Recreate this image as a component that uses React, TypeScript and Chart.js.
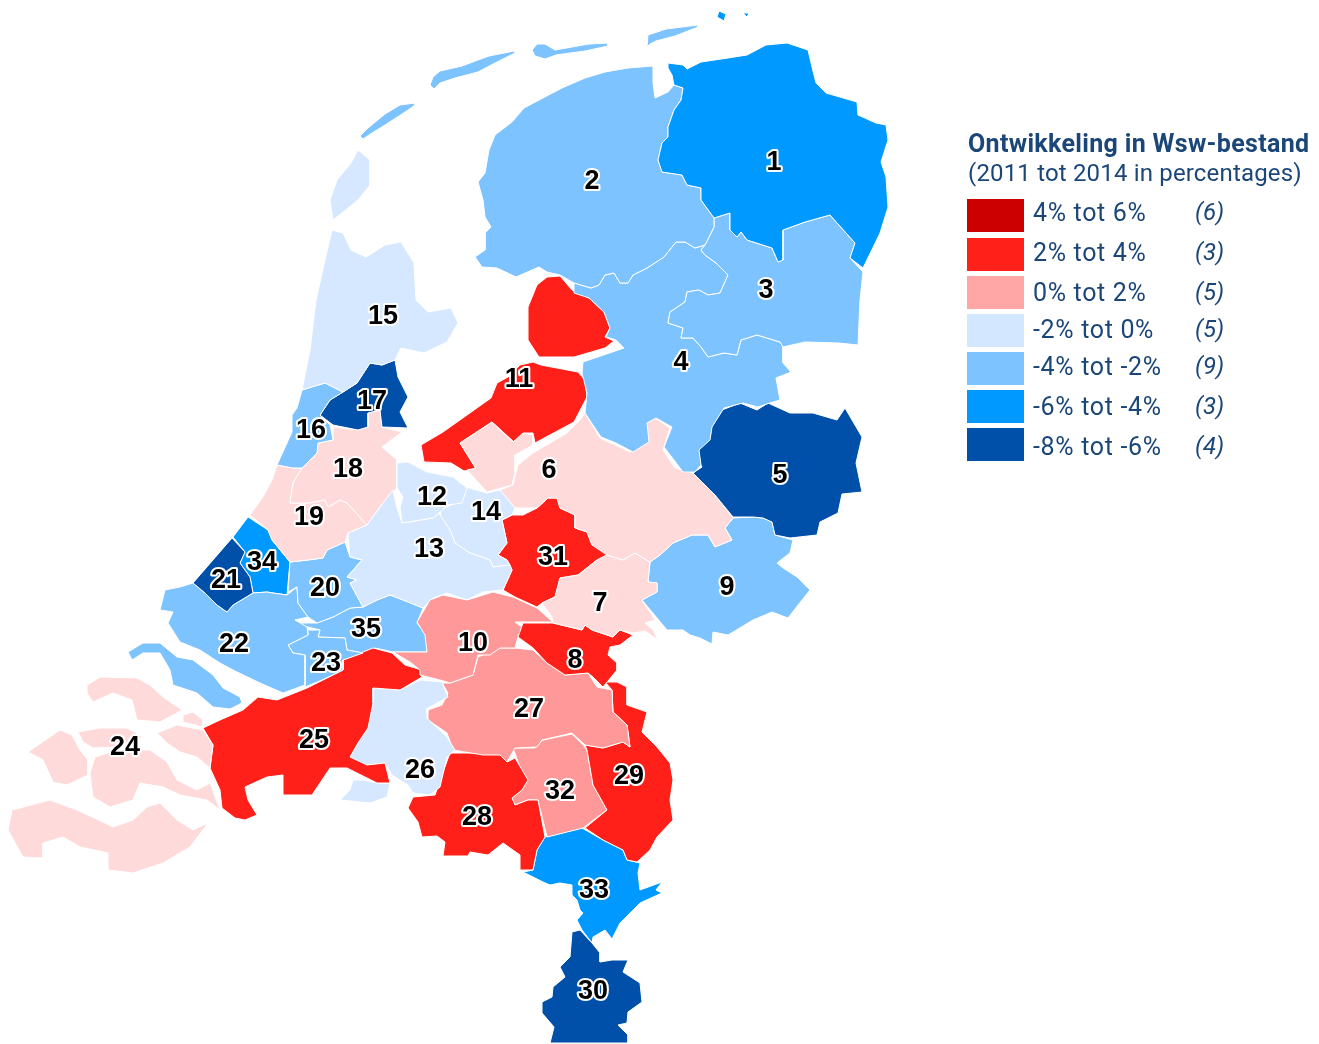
import React, { useEffect, useRef } from "react";
import { Chart, registerables } from "chart.js";

Chart.register(...registerables);

type Ring = number[][];

const C = { darkBlue: "#0050AA", blue: "#0099FF", midBlue: "#7DC3FF", paleBlue: "#D5E8FF", palePink: "#FFDADA", pink: "#FF9999", red: "#FF2019" };

const r1: Ring[] = [
  [[668,63],[683,65],[687,69],[701,62],[728,58],[747,55],[766,45],[787,43],[808,50],[812,67],[816,83],[826,93],[857,102],[858,115],[876,123],[886,125],[888,140],[881,162],[886,177],[888,207],[880,233],[863,268],[850,258],[855,243],[830,215],[805,222],[783,230],[783,260],[778,262],[772,248],[747,240],[741,232],[737,237],[730,230],[730,213],[714,218],[701,200],[701,188],[687,185],[682,175],[662,172],[658,160],[662,143],[668,137],[668,127],[674,110],[681,100],[683,88],[674,85],[672,75],[668,68]],
  [[719,11],[726,14],[724,21],[717,17]],
  [[743,13],[749,13],[747,17]],
];
const r2: Ring[] = [
  [[653,66],[628,68],[605,72],[585,78],[562,88],[543,98],[524,108],[512,122],[495,135],[489,150],[485,173],[478,182],[483,200],[485,217],[491,227],[485,233],[485,250],[475,257],[482,267],[497,268],[516,277],[532,270],[539,267],[547,272],[560,275],[574,283],[591,288],[599,285],[605,275],[614,273],[620,283],[628,283],[633,275],[647,268],[664,257],[676,242],[685,242],[695,248],[705,245],[714,227],[714,218],[701,200],[701,188],[687,185],[682,175],[662,172],[658,160],[662,143],[668,137],[668,127],[674,110],[681,100],[683,88],[674,85],[668,92],[655,98],[653,83]],
  [[360,136],[368,128],[385,114],[400,105],[415,103],[414,106],[402,114],[385,125],[372,133],[363,139]],
  [[430,85],[433,77],[440,71],[462,66],[478,60],[489,56],[514,51],[515,53],[495,63],[478,72],[455,78],[440,83],[434,89]],
  [[532,50],[537,44],[545,44],[555,50],[572,47],[589,44],[608,43],[608,46],[585,51],[556,55],[545,59],[535,56]],
  [[647,47],[648,35],[666,29],[698,25],[698,27],[675,36],[656,41],[650,44]],
];
const r3: Ring[] = [
  [[830,215],[855,243],[850,258],[863,272],[860,300],[858,345],[839,343],[805,342],[783,347],[780,342],[757,335],[741,340],[737,355],[724,353],[708,357],[701,347],[693,338],[681,338],[683,328],[668,323],[670,312],[685,302],[687,292],[699,290],[708,295],[720,293],[728,275],[716,263],[705,255],[701,250],[705,245],[714,227],[714,218],[730,213],[730,230],[737,237],[741,232],[747,240],[772,248],[778,262],[783,260],[783,230],[805,222]],
];
const r4: Ring[] = [
  [[574,283],[591,288],[599,285],[605,275],[614,273],[620,283],[628,283],[633,275],[647,268],[664,257],[676,242],[685,242],[695,248],[705,245],[701,250],[705,255],[716,263],[728,275],[720,293],[708,295],[699,290],[687,292],[685,302],[670,312],[668,323],[683,328],[681,338],[693,338],[701,347],[708,357],[724,353],[737,355],[741,340],[757,335],[780,342],[783,347],[783,363],[791,372],[776,378],[780,400],[770,403],[758,407],[743,403],[724,408],[712,427],[710,440],[699,450],[701,465],[695,472],[683,472],[674,460],[664,447],[672,427],[656,418],[647,423],[649,442],[633,452],[616,443],[601,437],[585,413],[587,393],[582,373],[583,362],[624,348],[616,340],[606,337],[610,328],[604,312],[589,298],[574,293]],
];
const r5: Ring[] = [
  [[697,450],[710,437],[712,425],[722,410],[740,403],[757,410],[768,403],[790,413],[813,413],[837,420],[845,408],[862,437],[856,463],[862,492],[842,494],[838,513],[820,522],[817,535],[790,538],[775,535],[772,522],[763,518],[753,517],[733,517],[715,495],[693,473],[702,467],[697,458]],
];
const r6: Ring[] = [
  [[460,443],[492,422],[513,442],[523,433],[533,435],[533,445],[515,455],[515,472],[512,485],[487,492],[467,470],[476,468]],
  [[585,413],[600,438],[630,452],[647,440],[645,422],[655,418],[670,428],[663,450],[675,468],[693,473],[715,495],[733,518],[725,528],[732,540],[715,547],[708,535],[692,535],[673,543],[660,555],[650,562],[635,553],[623,560],[607,555],[592,545],[587,532],[575,528],[575,515],[560,508],[557,498],[548,498],[537,508],[515,508],[500,490],[513,485],[518,465],[533,453],[567,433],[580,420]],
];
const r7: Ring[] = [
  [[650,562],[635,553],[623,560],[607,555],[597,560],[578,575],[560,578],[555,597],[542,603],[552,617],[553,623],[582,630],[585,625],[592,630],[613,637],[620,630],[633,633],[645,631],[658,640],[653,630],[645,623],[655,620],[642,600],[657,592],[657,583],[648,582]],
];
const r8: Ring[] = [
  [[523,623],[553,623],[582,630],[585,625],[592,630],[613,637],[620,630],[633,635],[620,645],[610,647],[608,655],[617,663],[617,670],[603,687],[593,677],[588,673],[565,675],[547,663],[533,648],[518,637]],
];
const r9: Ring[] = [
  [[733,518],[753,517],[763,518],[772,522],[775,535],[793,540],[790,553],[777,563],[783,568],[797,577],[810,590],[802,600],[788,618],[772,612],[753,620],[728,635],[713,632],[712,644],[700,638],[690,635],[683,630],[667,630],[657,618],[642,600],[657,592],[657,583],[648,582],[650,562],[660,555],[673,543],[692,535],[708,535],[715,547],[732,540],[725,528]],
];
const r10: Ring[] = [
  [[430,600],[443,595],[467,600],[493,592],[513,597],[537,608],[553,622],[515,622],[523,628],[518,637],[515,648],[500,648],[490,655],[478,655],[473,675],[450,683],[440,680],[420,675],[420,670],[410,662],[393,652],[427,652],[425,635],[417,622]],
];
const r11: Ring[] = [
  [[560,276],[572,290],[589,298],[604,312],[610,328],[605,337],[614,341],[605,348],[574,357],[539,357],[528,340],[528,307],[537,285],[547,277]],
  [[533,362],[541,365],[578,372],[585,380],[587,397],[574,422],[535,443],[533,433],[524,433],[514,442],[492,422],[460,443],[476,469],[464,471],[451,463],[424,462],[421,445],[443,432],[491,398],[497,383],[508,377],[520,365]],
];
const r12: Ring[] = [
  [[397,463],[408,462],[427,472],[453,477],[467,488],[462,503],[447,505],[440,512],[433,518],[402,523],[400,507],[403,497],[397,488],[397,473]],
];
const r13: Ring[] = [
  [[402,523],[433,518],[440,512],[440,515],[450,530],[455,543],[470,553],[490,560],[493,567],[510,565],[512,570],[503,590],[483,592],[467,600],[447,593],[433,598],[423,608],[403,600],[390,595],[377,600],[363,607],[350,583],[357,580],[347,577],[362,560],[350,557],[348,533],[367,525],[383,503],[393,490],[397,508]],
];
const r14: Ring[] = [
  [[466,487],[487,493],[500,490],[515,508],[512,515],[502,520],[507,543],[498,555],[507,560],[510,565],[493,567],[490,560],[470,553],[455,543],[450,530],[440,515],[440,510],[462,500]],
];
const r15: Ring[] = [
  [[332,230],[343,233],[351,250],[366,257],[385,245],[401,242],[414,263],[416,300],[428,312],[451,308],[458,323],[447,342],[424,353],[401,348],[395,360],[382,365],[370,363],[357,383],[343,392],[325,383],[302,390],[310,350],[316,300],[325,260]],
  [[358,150],[370,160],[370,185],[358,200],[333,220],[330,200],[337,180],[351,163]],
];
const r16: Ring[] = [
  [[302,390],[325,383],[343,392],[330,400],[320,415],[330,425],[333,440],[318,443],[317,453],[302,468],[293,468],[277,465],[292,432],[292,415],[297,408]],
];
const r17: Ring[] = [
  [[370,363],[382,365],[395,360],[398,377],[408,397],[400,412],[408,428],[382,427],[380,410],[368,413],[368,427],[358,430],[333,425],[320,415],[330,400],[343,392],[357,383]],
];
const r18: Ring[] = [
  [[333,427],[358,430],[368,427],[368,413],[380,410],[382,427],[402,432],[382,447],[397,460],[397,473],[397,488],[383,503],[367,525],[347,503],[340,500],[328,507],[325,500],[308,503],[290,503],[293,483],[302,468],[317,453],[318,443],[333,440]],
];
const r19: Ring[] = [
  [[277,465],[293,468],[302,468],[293,483],[290,503],[308,503],[325,500],[328,507],[340,500],[347,503],[367,525],[348,533],[345,542],[327,550],[323,558],[308,560],[290,562],[272,540],[268,530],[250,515],[263,497],[272,480]],
];
const r20: Ring[] = [
  [[290,562],[308,560],[323,558],[327,550],[345,542],[350,557],[362,560],[347,577],[357,580],[350,583],[363,607],[350,608],[333,617],[317,623],[308,617],[298,603],[297,587],[288,592]],
];
const r21: Ring[] = [
  [[232,538],[245,552],[240,563],[250,577],[253,593],[233,605],[227,612],[217,605],[205,593],[193,583]],
];
const r22: Ring[] = [
  [[193,583],[205,593],[217,605],[227,612],[233,605],[253,593],[267,592],[273,593],[287,595],[297,587],[298,603],[308,617],[295,620],[307,627],[308,635],[288,645],[293,653],[305,655],[305,685],[283,693],[260,683],[233,670],[220,663],[200,650],[180,642],[168,623],[173,612],[160,610],[165,590],[180,587]],
  [[128,652],[143,643],[160,643],[177,657],[193,660],[213,675],[223,688],[240,697],[242,703],[230,709],[213,707],[197,693],[173,685],[170,670],[160,653],[143,653],[132,660]],
];
const r23: Ring[] = [
  [[308,630],[320,630],[318,637],[345,638],[347,650],[363,653],[343,660],[343,670],[322,680],[305,687],[305,655],[293,653],[288,645],[308,635]],
];
const r24: Ring[] = [
  [[87,685],[100,677],[137,678],[150,685],[163,697],[182,710],[160,722],[137,720],[132,700],[113,693],[93,702],[87,693]],
  [[183,715],[193,712],[203,720],[203,727],[183,722]],
  [[28,752],[60,730],[72,735],[80,750],[88,760],[88,775],[67,785],[53,782],[43,760]],
  [[78,732],[100,728],[127,728],[143,737],[117,747],[93,748],[83,742]],
  [[95,757],[117,750],[150,750],[167,762],[177,780],[197,790],[210,783],[220,810],[207,800],[180,795],[163,787],[140,783],[133,800],[110,807],[93,797],[90,773]],
  [[157,733],[177,725],[203,730],[213,745],[210,768],[197,757],[180,752],[167,743]],
  [[12,810],[50,800],[77,810],[103,822],[113,827],[133,820],[147,807],[160,803],[177,820],[193,830],[208,823],[190,847],[163,863],[133,873],[108,870],[108,853],[80,847],[63,837],[43,843],[43,858],[23,857],[8,830]],
];
const r25: Ring[] = [
  [[203,728],[220,720],[243,710],[258,697],[277,700],[307,688],[343,670],[343,660],[373,648],[392,653],[405,665],[422,670],[422,677],[400,690],[373,688],[373,703],[368,728],[358,743],[350,757],[367,765],[385,763],[390,783],[377,783],[347,768],[330,768],[312,795],[283,795],[283,775],[267,777],[245,787],[248,800],[257,815],[245,820],[235,818],[222,808],[220,790],[210,768],[213,745]],
];
const r26: Ring[] = [
  [[373,688],[400,690],[420,680],[442,682],[448,697],[428,708],[427,718],[447,737],[455,750],[447,757],[440,787],[430,795],[413,793],[408,785],[392,775],[385,763],[367,765],[350,757],[358,743],[368,728],[373,703]],
  [[353,780],[363,780],[377,783],[390,783],[387,797],[370,803],[340,800],[350,790]],
];
const r27: Ring[] = [
  [[478,657],[500,648],[515,648],[533,650],[547,663],[565,675],[588,673],[597,687],[612,690],[613,712],[627,725],[630,747],[623,742],[603,748],[585,745],[572,733],[542,740],[537,747],[515,748],[507,762],[500,755],[483,755],[453,750],[447,733],[428,720],[428,710],[442,705],[448,693],[442,683],[450,683],[473,675]],
];
const r28: Ring[] = [
  [[450,753],[483,753],[502,753],[507,762],[515,758],[528,780],[522,790],[512,798],[515,805],[528,800],[538,800],[545,837],[537,850],[533,870],[520,870],[520,855],[503,843],[488,855],[470,852],[468,856],[443,856],[445,842],[437,836],[422,837],[418,822],[408,808],[413,797],[435,795],[443,772]],
];
const r29: Ring[] = [
  [[605,682],[617,682],[627,687],[627,705],[647,712],[642,732],[657,747],[670,763],[673,780],[670,800],[673,820],[657,837],[650,850],[637,862],[627,860],[623,850],[603,840],[585,828],[607,810],[593,785],[587,750],[585,745],[603,748],[623,742],[630,747],[627,725],[613,712],[612,690]],
];
const r30: Ring[] = [
  [[572,932],[580,930],[592,943],[600,953],[600,962],[612,960],[628,960],[623,972],[640,983],[642,1002],[628,1012],[627,1023],[618,1025],[628,1035],[628,1043],[550,1043],[554,1027],[542,1013],[542,1002],[552,997],[553,987],[565,977],[560,967],[570,957]],
];
const r31: Ring[] = [
  [[557,498],[560,508],[575,515],[575,528],[587,532],[592,545],[607,550],[607,555],[597,560],[578,575],[560,578],[555,597],[542,603],[537,607],[515,597],[503,590],[512,570],[507,560],[498,555],[507,543],[502,520],[512,515],[523,515],[537,508],[548,498]],
];
const r32: Ring[] = [
  [[513,748],[535,748],[543,740],[572,734],[583,745],[587,750],[593,785],[607,810],[583,828],[547,837],[538,800],[528,800],[515,805],[512,798],[522,790],[528,780],[520,767]],
];
const r33: Ring[] = [
  [[545,837],[582,828],[603,840],[623,850],[627,860],[640,863],[638,873],[640,890],[662,882],[656,890],[662,893],[640,903],[620,923],[612,939],[605,930],[593,937],[592,943],[582,930],[577,920],[583,913],[580,910],[577,900],[572,895],[572,885],[560,883],[550,885],[543,882],[523,872],[533,870],[537,850]],
];
const r34: Ring[] = [
  [[248,517],[268,530],[272,540],[290,562],[287,595],[273,593],[267,592],[253,593],[250,577],[240,563],[245,552],[233,537]],
];
const r35: Ring[] = [
  [[317,623],[333,617],[350,608],[363,607],[377,600],[390,595],[403,600],[423,608],[417,623],[427,635],[427,652],[393,652],[375,648],[363,653],[347,650],[345,638],[318,637],[320,630],[308,627],[295,623]],
];

const regionRings = [r1,r2,r3,r4,r5,r6,r7,r8,r9,r10,r11,r12,r13,r14,r15,r16,r17,r18,r19,r20,r21,r22,r23,r24,r25,r26,r27,r28,r29,r30,r31,r32,r33,r34,r35];
const regionColors = [C.blue,C.midBlue,C.midBlue,C.midBlue,C.darkBlue,C.palePink,C.palePink,C.red,C.midBlue,C.pink,C.red,C.paleBlue,C.paleBlue,C.paleBlue,C.paleBlue,C.midBlue,C.darkBlue,C.palePink,C.palePink,C.midBlue,C.darkBlue,C.midBlue,C.midBlue,C.palePink,C.red,C.paleBlue,C.pink,C.red,C.red,C.darkBlue,C.red,C.pink,C.blue,C.blue,C.midBlue];
const labelPoints = [[774,163],[592,182],[766,291],[681,363],[780,476],[549,471],[600,604],[575,661],[727,588],[473,644],[519,380],[432,498],[429,550],[486,513],[383,317],[311,431],[372,402],[348,470],[309,518],[325,589],[226,581],[234,645],[326,664],[125,748],[314,741],[420,771],[529,710],[477,818],[629,777],[593,992],[553,558],[560,792],[594,891],[262,563],[366,630]];

const legendLabels = ["4% tot 6%","2% tot 4%","0% tot 2%","-2% tot 0%","-4% tot -2%","-6% tot -4%","-8% tot -6%"];
const legendCounts = [6,3,5,5,9,3,4];
const legendColors = ["#CC0000","#FF2019","#FFA6A6","#D3E8FF","#7DC3FF","#0099FF","#0050AA"];
const legendTops = [199,238,276,314,352,390,428];
const legendTextTops = [200,240,280,317,354,394,434];

const regionLabels = {
  id: "regionLabels",
  afterDatasetsDraw(chart: any) {
    const { ctx, scales } = chart;
    ctx.save();
    ctx.font = 'bold 27px "Liberation Sans"';
    ctx.textAlign = "center";
    ctx.textBaseline = "middle";
    ctx.lineJoin = "round";
    labelPoints.forEach((p, i) => {
      const x = scales.x.getPixelForValue(p[0]);
      const y = scales.y.getPixelForValue(p[1]);
      ctx.strokeStyle = "#fff";
      ctx.lineWidth = 4;
      ctx.strokeText(String(i + 1), x, y);
      ctx.fillStyle = "#000";
      ctx.fillText(String(i + 1), x, y);
    });
    ctx.restore();
  },
};

export default function App() {
  const ref = useRef<HTMLCanvasElement>(null);
  useEffect(() => {
    const datasets: any[] = [];
    regionRings.forEach((rings, i) => {
      rings.forEach((ring) => {
        const pts = ring.map(([x, y]) => ({ x, y }));
        pts.push({ x: ring[0][0], y: ring[0][1] });
        datasets.push({
          label: "Regio " + (i + 1),
          data: pts,
          showLine: true,
          fill: "shape",
          backgroundColor: regionColors[i],
          borderColor: "#fff",
          borderWidth: 1,
          pointRadius: 0,
          tension: 0,
          clip: false,
        });
      });
    });
    const chart = new Chart(ref.current!, {
      type: "scatter",
      data: { datasets },
      options: {
        animation: false,
        responsive: false,
        layout: { padding: 0 },
        plugins: { legend: { display: false }, tooltip: { enabled: false } },
        scales: {
          x: { type: "linear", display: false, min: 0, max: 1319 },
          y: { type: "linear", display: false, min: 0, max: 1044, reverse: true },
        },
      },
      plugins: [regionLabels],
    } as any);
    return () => chart.destroy();
  }, []);

  const textColor = "#1B4678";
  const font = 'Roboto, sans-serif';
  const abs = (left: number, top: number, extra: any): any => ({ position: "absolute", left, top, whiteSpace: "nowrap", color: textColor, fontFamily: font, lineHeight: 1, ...extra });
  return (
    <div style={{ position: "absolute", left: 0, top: 0, width: 1319, height: 1044, background: "#fff", overflow: "hidden" }}>
      <canvas ref={ref} width={1319} height={1044} style={{ position: "absolute", left: 0, top: 0, display: "block" }} />
      <div style={abs(968, 131, { fontSize: 25, fontWeight: 700, letterSpacing: 0.33 })}>Ontwikkeling in Wsw-bestand</div>
      <div style={abs(968, 161, { fontSize: 24, letterSpacing: 0.17 })}>(2011 tot 2014 in percentages)</div>
      {legendLabels.map((t, i) => (
        <React.Fragment key={t}>
          <div style={{ position: "absolute", left: 967, top: legendTops[i], width: 57, height: 33, background: legendColors[i] }} />
          <div style={abs(1033, legendTextTops[i], { fontSize: 25, letterSpacing: 0.67 })}>{t}</div>
          <div style={abs(1195, legendTextTops[i], { fontSize: 24, fontStyle: "italic" })}>({legendCounts[i]})</div>
        </React.Fragment>
      ))}
    </div>
  );
}
